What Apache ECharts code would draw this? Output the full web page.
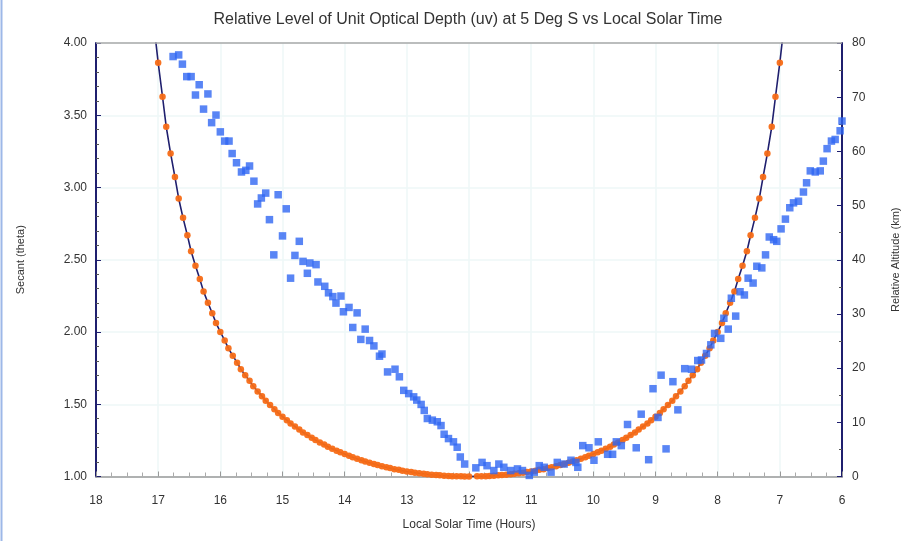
<!DOCTYPE html>
<html>
<head>
<meta charset="utf-8">
<script src="https://cdn.jsdelivr.net/npm/echarts@6/dist/echarts.min.js"></script>
<style>
html,body{margin:0;padding:0;background:#fff;}
#chart{width:903px;height:541px;}
</style>
</head>
<body>
<div id="chart"></div>
<script>
// Secant curve, afternoon branch (17:00 -> 12:00)
var pmTimes = [17.00,16.93,16.87,16.80,16.73,16.67,16.60,16.53,16.47,16.40,16.33,16.27,16.20,16.13,16.07,
  16.00,15.93,15.87,15.80,15.73,15.67,15.60,15.53,15.47,15.40,15.33,15.27,15.20,15.13,15.07,
  15.00,14.93,14.87,14.80,14.73,14.67,14.60,14.53,14.47,14.40,14.33,14.27,14.20,14.13,14.07,
  14.00,13.93,13.87,13.80,13.73,13.67,13.60,13.53,13.47,13.40,13.33,13.27,13.20,13.13,13.07,
  13.00,12.93,12.87,12.80,12.73,12.67,12.60,12.53,12.47,12.40,12.33,12.27,12.20,12.13,12.07,12.00];
var pmSecant = [3.864,3.628,3.420,3.236,3.072,2.924,2.790,2.669,2.559,2.459,2.366,2.281,2.203,2.130,2.063,
  2.000,1.942,1.887,1.836,1.788,1.743,1.701,1.662,1.624,1.589,1.556,1.524,1.494,1.466,1.440,
  1.414,1.390,1.367,1.346,1.325,1.305,1.287,1.269,1.252,1.236,1.221,1.206,1.192,1.179,1.167,
  1.155,1.143,1.133,1.122,1.113,1.103,1.095,1.086,1.079,1.071,1.064,1.058,1.051,1.046,1.040,
  1.035,1.031,1.026,1.022,1.019,1.015,1.012,1.010,1.008,1.006,1.004,1.002,1.001,1.001,1.000,1.000];
// Secant curve, morning branch (11:52 -> 07:00)
var amTimes = [11.87,11.80,11.73,11.67,11.60,11.53,11.47,11.40,11.33,11.27,11.20,11.13,11.07,11.00,
  10.93,10.87,10.80,10.73,10.67,10.60,10.53,10.47,10.40,10.33,10.27,10.20,10.13,10.07,10.00,
  9.93,9.87,9.80,9.73,9.67,9.60,9.53,9.47,9.40,9.33,9.27,9.20,9.13,9.07,9.00,
  8.93,8.87,8.80,8.73,8.67,8.60,8.53,8.47,8.40,8.33,8.27,8.20,8.13,8.07,8.00,
  7.93,7.87,7.80,7.73,7.67,7.60,7.53,7.47,7.40,7.33,7.27,7.20,7.13,7.07,7.00];
var amSecant = [1.001,1.001,1.002,1.004,1.006,1.008,1.010,1.012,1.015,1.019,1.022,1.026,1.031,1.035,
  1.040,1.046,1.051,1.058,1.064,1.071,1.079,1.086,1.095,1.103,1.113,1.122,1.133,1.143,1.155,
  1.167,1.179,1.192,1.206,1.221,1.236,1.252,1.269,1.287,1.305,1.325,1.346,1.367,1.390,1.414,
  1.440,1.466,1.494,1.524,1.556,1.589,1.624,1.662,1.701,1.743,1.788,1.836,1.887,1.942,2.000,
  2.063,2.130,2.203,2.281,2.366,2.459,2.559,2.669,2.790,2.924,3.072,3.236,3.420,3.628,3.864];
// Curve ends where the line leaves the plot top
var lineEndTimes = [17.07, 6.93];
var lineEndSecant = [4.13, 4.13];

// Relative altitude observations (km)
var altTimes = [16.76,16.67,16.61,16.54,16.47,16.40,16.34,16.27,16.20,16.14,16.07,16.00,15.93,15.86,15.81,15.74,
  15.66,15.59,15.53,15.46,15.40,15.34,15.27,15.21,15.14,15.07,15.00,14.94,14.87,14.80,14.73,14.67,14.60,14.56,
  14.46,14.43,14.32,14.26,14.19,14.14,14.06,14.02,13.93,13.87,13.80,13.74,13.67,13.60,13.53,13.44,13.40,13.31,
  13.19,13.12,13.05,12.97,12.89,12.84,12.77,12.72,12.67,12.59,12.51,12.45,12.40,12.33,12.25,12.19,12.14,12.07,
  11.89,11.79,11.71,11.60,11.52,11.44,11.33,11.22,11.14,11.03,10.95,10.87,10.79,10.68,10.58,10.47,10.36,10.28,
  10.25,10.17,10.07,9.99,9.92,9.77,9.69,9.63,9.55,9.45,9.31,9.23,9.11,9.04,8.96,8.91,8.83,8.72,8.64,8.53,8.42,
  8.32,8.26,8.18,8.11,8.05,7.95,7.90,7.83,7.78,7.71,7.64,7.57,7.51,7.43,7.37,7.29,7.23,7.17,7.10,7.05,6.98,
  6.91,6.84,6.78,6.70,6.62,6.57,6.51,6.43,6.35,6.30,6.24,6.17,6.11,6.03,6.00];
var altKm = [77.5,77.8,76.1,73.8,73.8,70.4,72.3,67.8,70.6,65.3,66.7,63.6,61.9,61.9,59.6,57.9,
  56.2,56.5,57.3,54.5,50.3,51.4,52.3,47.4,40.9,52.0,44.4,49.4,36.6,40.8,43.4,39.7,37.5,39.4,
  39.1,35.9,35.1,33.9,33.2,32.0,33.3,30.4,31.2,27.5,30.2,25.3,27.2,25.1,24.1,22.2,22.6,19.3,
  19.8,18.4,15.9,15.3,14.7,14.1,13.3,12.2,10.7,10.4,10.1,9.4,7.8,7.0,6.4,5.4,3.6,2.3,
  1.6,2.6,2.0,1.1,2.3,1.7,1.1,1.4,1.1,0.2,0.8,2.0,1.7,0.8,2.6,2.3,3.0,2.6,
  1.7,5.7,5.3,3.0,6.4,4.1,4.1,6.4,5.7,9.6,5.3,11.5,3.1,16.2,10.9,18.7,5.1,17.5,12.3,19.9,19.8,
  21.4,21.5,22.7,24.3,26.4,25.5,29.2,27.2,32.9,29.6,34.1,33.5,36.6,35.7,38.8,38.5,40.9,44.2,43.7,43.4,45.7,
  47.5,49.6,50.5,50.8,52.5,54.2,56.4,56.2,56.4,58.2,60.5,61.9,62.2,63.8,65.6];

function pairs(xs, ys){ var out=[]; for(var i=0;i<xs.length;i++){ out.push([xs[i], ys[i]]); } return out; }

var secDots = pairs(pmTimes, pmSecant).concat(pairs(amTimes, amSecant));
var secLine = [[lineEndTimes[0], lineEndSecant[0]]].concat(secDots, [[lineEndTimes[1], lineEndSecant[1]]]);
var altPts = pairs(altTimes, altKm);

var FONT = '"Liberation Sans", Arial, sans-serif';
var GRID = '#eef7f7';
var chart = echarts.init(document.getElementById('chart'));
chart.setOption({
  animation: false,
  backgroundColor: '#ffffff',
  title: {
    text: 'Relative Level of Unit Optical Depth (uv) at 5 Deg S vs Local Solar Time',
    left: 463, top: 7, textAlign: 'center',
    textStyle: { fontFamily: FONT, fontSize: 16, fontWeight: 'normal', color: '#333' }
  },
  graphic: [
    { type: 'line', shape: { x1: 1.5, y1: 0, x2: 1.5, y2: 541 }, style: { stroke: '#9db8e8', lineWidth: 2 } },
    { type: 'line', shape: { x1: 96, y1: 43, x2: 842, y2: 43 }, style: { stroke: '#a8a8a8', lineWidth: 1.5 }, z: 10 }
  ],
  grid: { left: 96, right: 61, top: 43, bottom: 64.5, containLabel: false, outerBoundsMode: 'none' },
  xAxis: {
    type: 'value', min: 6, max: 18, interval: 1, inverse: true,
    name: 'Local Solar Time (Hours)', nameLocation: 'middle', nameGap: 42,
    nameTextStyle: { fontFamily: FONT, fontSize: 12, color: '#333' },
    axisLine: { lineStyle: { color: '#999', width: 1.5 } },
    axisTick: { inside: true, length: 5, lineStyle: { color: '#999' } },
    minorTick: { show: true, splitNumber: 4, length: 4, lineStyle: { color: '#aaa' } },
    axisLabel: { fontFamily: FONT, fontSize: 12, color: '#333', margin: 18 },
    splitLine: { show: true, lineStyle: { color: GRID, width: 1.5 } }
  },
  yAxis: [
    {
      type: 'value', min: 1, max: 4, interval: 0.5, position: 'left',
      name: 'Secant (theta)', nameLocation: 'middle', nameGap: 70, nameRotate: 90,
      nameTextStyle: { fontFamily: FONT, fontSize: 11, color: '#333' },
      axisLine: { show: true, onZero: false, lineStyle: { color: '#1f1f6e', width: 2 } },
      axisTick: { show: true, inside: true, length: 5, lineStyle: { color: '#1f1f6e' } },
      minorTick: { show: true, splitNumber: 5, length: 3, lineStyle: { color: '#555' } },
      axisLabel: { fontFamily: FONT, fontSize: 12, color: '#333', margin: 9,
        formatter: function(v){ return v.toFixed(2); } },
      splitLine: { show: true, lineStyle: { color: GRID, width: 1.5 } }
    },
    {
      type: 'value', min: 0, max: 80, interval: 10, position: 'right',
      name: 'Relative Altitude (km)', nameLocation: 'middle', nameGap: 48, nameRotate: 90,
      nameTextStyle: { fontFamily: FONT, fontSize: 11, color: '#333' },
      axisLine: { show: true, lineStyle: { color: '#1f1f6e', width: 2 } },
      axisTick: { show: true, inside: true, length: 5, lineStyle: { color: '#1f1f6e' } },
      minorTick: { show: true, splitNumber: 2, length: 3, lineStyle: { color: '#555' } },
      axisLabel: { fontFamily: FONT, fontSize: 12, color: '#333', margin: 10 },
      splitLine: { show: false }
    }
  ],
  series: [
    {
      type: 'line', yAxisIndex: 0, data: secLine, showSymbol: false, symbol: 'none',
      lineStyle: { color: '#1f1f6e', width: 1.6 }, clip: true, z: 2
    },
    {
      type: 'scatter', yAxisIndex: 0, data: secDots, symbol: 'circle', symbolSize: 6.5,
      itemStyle: { color: '#f76c16', opacity: 0.95 }, z: 3
    },
    {
      type: 'scatter', yAxisIndex: 1, data: altPts, symbol: 'rect', symbolSize: 7.5,
      itemStyle: { color: '#2f66f2' }, clip: false, z: 4
    }
  ]
});
</script>
</body>
</html>
